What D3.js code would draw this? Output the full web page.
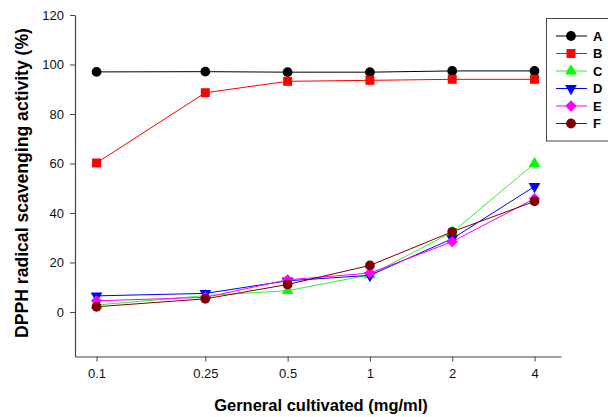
<!DOCTYPE html>
<meta charset="utf-8">
<html>
  <head>
    <script src="https://d3js.org/d3.v7.min.js"></script>
    <style>
      body { margin: 0; background: #fff; }
      text { font-family: "Liberation Sans", Arial, sans-serif; }
    </style>
  </head>
  <body>
    <div id="chart"></div>
    <script>
      // concentrations (mg/ml)
      var doses = [0.1, 0.25, 0.5, 1, 2, 4];
      var series_names = ["A", "B", "C", "D", "E", "F"];
      var values_A = [97.0, 97.1, 96.9, 96.9, 97.4, 97.4];
      var values_B = [60.2, 88.6, 93.2, 93.6, 94.0, 94.0];
      var values_C = [2.8, 6.6, 8.6, 15.0, 32.2, 60.0];
      var values_D = [6.5, 7.5, 12.6, 14.8, 29.6, 50.7];
      var values_E = [4.5, 5.9, 13.0, 15.7, 28.4, 45.8];
      var values_F = [2.1, 5.3, 11.1, 18.8, 32.4, 44.7];
      var y_ticks = [0, 20, 40, 60, 80, 100, 120];

      var colors = ["#000000", "#ff0000", "#00ff00", "#0000ff", "#ff00ff", "#800000"];
      var line_colors = ["#000000", "#ff0000", "#33ee33", "#0000ff", "#ff00ff", "#800000"];
      var shapes = ["circle", "square", "up", "down", "diamond", "circle"];

      var all_values = [values_A, values_B, values_C, values_D, values_E, values_F];
      var series = series_names.map(function(n, i){
        return { name: n, color: colors[i], line: line_colors[i], shape: shapes[i],
                 points: doses.map(function(d, j){ return { x: d, y: all_values[i][j] }; }) };
      });

      var total_width = 608, total_height = 417;
      var svg = d3.select("#chart").append("svg")
          .attr("width", total_width)
          .attr("height", total_height);

      var x_scale = d3.scaleLog().domain([0.0834, 5]).range([75, 561]);
      var y_scale = d3.scaleLinear().domain([-18, 120]).range([356.5, 15]);

      // axes
      var x_axis = d3.axisBottom(x_scale).tickValues(doses)
          .tickFormat(function(d){ return String(d); }).tickSize(5).tickSizeOuter(0);
      var y_axis = d3.axisLeft(y_scale).tickValues(y_ticks).tickSize(5).tickSizeOuter(0);

      var gx = svg.append("g").attr("transform", "translate(0,356.5)").call(x_axis);
      var gy = svg.append("g").attr("transform", "translate(75,0)").call(y_axis);
      [gx, gy].forEach(function(g){
        g.select(".domain").attr("stroke", "#444").attr("stroke-width", 1.2);
        g.selectAll(".tick line").attr("stroke", "#444");
        g.selectAll(".tick text").attr("fill", "#111")
          .style("font-family", "Liberation Sans, Arial, sans-serif").style("font-size", "13px");
      });
      gx.selectAll(".tick text").attr("dy", "1.05em");
      gy.selectAll(".tick text").attr("x", -11);

      // titles
      svg.append("text")
          .attr("x", 321).attr("y", 411)
          .attr("text-anchor", "middle")
          .style("font-size", "16.5px").style("font-weight", "bold")
          .text("Gerneral cultivated (mg/ml)");
      svg.append("text")
          .attr("transform", "translate(28,183) rotate(-90)")
          .attr("text-anchor", "middle")
          .style("font-size", "17.6px").style("font-weight", "bold")
          .text("DPPH radical scavenging activity (%)");

      // markers drawn as small paths
      function symbol_path(shape){
        if (shape == "circle") return d3.symbol().type(d3.symbolCircle).size(75)();
        if (shape == "square") return d3.symbol().type(d3.symbolSquare).size(80)();
        if (shape == "diamond") return d3.symbol().type(d3.symbolSquare).size(64)();
        return d3.symbol().type(d3.symbolTriangle).size(60)();
      }
      function symbol_transform(shape, x, y){
        var r = shape == "down" ? " rotate(180)" : shape == "diamond" ? " rotate(45)" : "";
        return "translate(" + x + "," + y + ")" + r;
      }

      var line = d3.line()
          .x(function(d){ return x_scale(d.x); })
          .y(function(d){ return y_scale(d.y); });

      var groups = svg.append("g").selectAll("g")
          .data(series)
          .enter().append("g");

      groups.append("path")
          .attr("d", function(d){ return line(d.points); })
          .attr("fill", "none")
          .attr("stroke", function(d){ return d.line; })
          .attr("stroke-width", 1);

      groups.each(function(s){
        d3.select(this).selectAll(".pt")
          .data(s.points)
          .enter().append("path")
          .attr("class", "pt")
          .attr("d", symbol_path(s.shape))
          .attr("transform", function(d){ return symbol_transform(s.shape, x_scale(d.x), y_scale(d.y)); })
          .attr("fill", s.color);
      });

      // legend
      var legend = svg.append("g");
      legend.append("rect")
          .attr("x", 546.5).attr("y", 18.5)
          .attr("width", 70).attr("height", 122.5)
          .attr("fill", "white").attr("stroke", "#444").attr("stroke-width", 1);

      var items = legend.selectAll(".item")
          .data(series)
          .enter().append("g")
          .attr("transform", function(d, i){ return "translate(0," + (36 + i * 17.5) + ")"; });
      items.append("line")
          .attr("x1", 556).attr("x2", 587)
          .attr("stroke", function(d){ return d.line; })
          .attr("stroke-width", 1);
      items.append("path")
          .attr("d", function(d){ return symbol_path(d.shape); })
          .attr("transform", function(d){ return symbol_transform(d.shape, 571, 0); })
          .attr("fill", function(d){ return d.color; });
      items.append("text")
          .attr("x", 593).attr("y", 4.5)
          .style("font-size", "13px").style("font-weight", "bold")
          .text(function(d){ return d.name; });
    </script>
  </body>
</html>
